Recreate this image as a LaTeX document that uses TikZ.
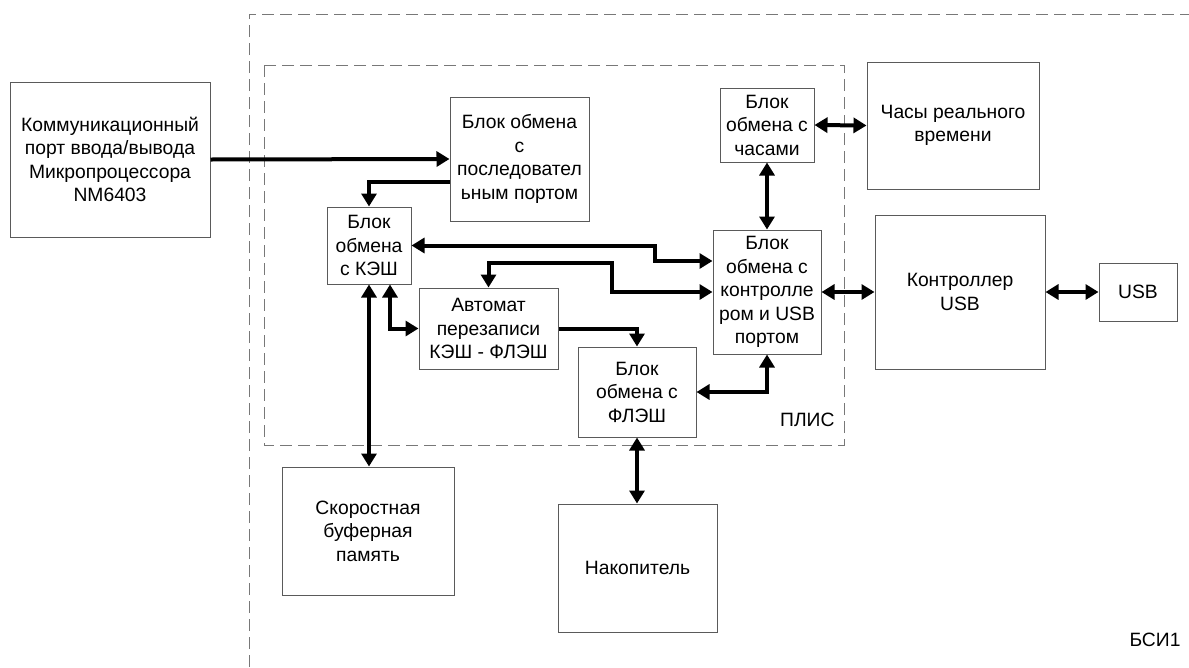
\documentclass[tikz,border=0pt]{standalone}
\usepackage{fontspec}
\setmainfont{Liberation Sans}
\usetikzlibrary{arrows.meta}
\definecolor{boxline}{RGB}{90,90,90}
\definecolor{dashline}{RGB}{120,120,120}

\begin{document}
\begin{tikzpicture}[x=1pt,y=-1pt,
        block/.style={draw=boxline,line width=1pt,align=center,inner sep=1pt,
          font=\fontsize{19.3}{23.5}\selectfont},
        link/.style={draw=black,line width=4pt,-{Triangle[length=13pt,width=15pt]}},
        dlink/.style={draw=black,line width=4pt,{Triangle[length=13pt,width=15pt]}-{Triangle[length=13pt,width=15pt]}},
        frame/.style={draw=dashline,line width=1pt,dash pattern=on 12pt off 6pt},
        tag/.style={font=\fontsize{19.3}{23.5}\selectfont}
      ]
      \useasboundingbox (0,0) rectangle (1189,667);

      % dashed frames
      \draw[frame] (249,667) -- (249,14) -- (1189,14);
      \draw[frame] (264,65) rectangle (844,445);

      % blocks
      \node[block,minimum width=200pt,minimum height=155pt] (port) at (110,159.5)
        {Коммуникационный\\порт ввода/вывода\\Микропроцессора\\NM6403};
      \node[block,minimum width=139pt,minimum height=124pt] (serial) at (519.5,159)
        {Блок обмена\\с\\последовател\\ьным портом};
      \node[block,minimum width=84pt,minimum height=77pt] (cache) at (369,245.5)
        {Блок\\обмена\\с КЭШ};
      \node[block,minimum width=94pt,minimum height=74pt] (clock) at (767,125)
        {Блок\\обмена с\\часами};
      \node[block,minimum width=172pt,minimum height=127pt] (rtc) at (953,125.5)
        {Часы реального\\времени};
      \node[block,minimum width=108pt,minimum height=124pt] (usbblk) at (767,292)
        {Блок\\обмена с\\контролле\\ром и USB\\портом};
      \node[block,minimum width=170pt,minimum height=154pt] (usbctl) at (960,292)
        {Контроллер\\USB};
      \node[block,minimum width=78pt,minimum height=58pt] (usb) at (1138,292) {USB};
      \node[block,minimum width=139pt,minimum height=81pt] (automat) at (488.5,328.5)
        {Автомат\\перезаписи\\КЭШ - ФЛЭШ};
      \node[block,minimum width=118pt,minimum height=90pt] (flash) at (637,392)
        {Блок\\обмена с\\ФЛЭШ};
      \node[block,minimum width=172pt,minimum height=128pt] (buffer) at (368,531)
        {Скоростная\\буферная\\память};
      \node[block,minimum width=159pt,minimum height=128pt] (storage) at (637.5,568)
        {Накопитель};

      \node[tag,anchor=east] (plis) at (838,420) {ПЛИС};
      \node[tag] (bsi) at (1155,640) {БСИ1};

      % connections
      \draw[link] (port.east) -- (serial.west);
      \draw[link] ([yshift=-23pt]serial.west) -| (cache.north);
      \draw[dlink] (cache.east) -- ++(243,0) |- ([yshift=31pt]usbblk.west);
      \draw[dlink] (automat.north) |- (612,263) |- (usbblk.west);
      \draw[dlink] ([xshift=21pt]cache.south) |- (automat.west);
      \draw[dlink] (cache.south) -- (cache.south |- buffer.north);
      \draw[link] (automat.east) -| (flash.north);
      \draw[dlink] (usbblk.south) |- (flash.east);
      \draw[dlink] (flash.south) -- (flash.south |- storage.north);
      \draw[dlink] (clock.east) -- (rtc.west);
      \draw[dlink] (clock.south) -- (usbblk.north);
      \draw[dlink] (usbblk.east) -- (usbctl.west);
      \draw[dlink] (usbctl.east) -- (usb.west);
    \end{tikzpicture}
\end{document}
